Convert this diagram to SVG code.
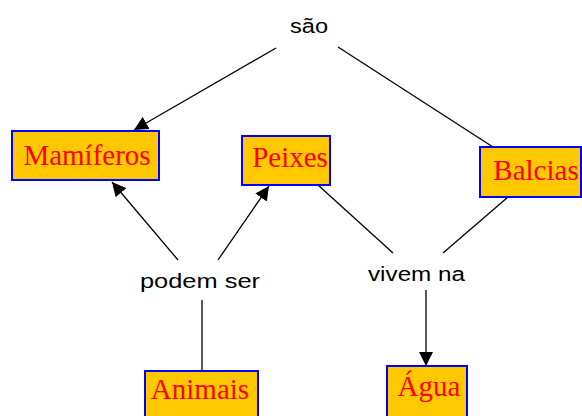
<svg xmlns="http://www.w3.org/2000/svg" width="582" height="416" viewBox="0 0 582 416">
<style>
.box{fill:#FFC800;stroke:#0000FF;stroke-width:2}
.lbl{font-family:"Liberation Serif","Times New Roman",serif;font-size:29px;fill:#FF0000;text-anchor:middle}
.link{font-family:"Liberation Sans",Arial,sans-serif;font-size:20px;fill:#000}
.ln{stroke:#000;stroke-width:1.3;fill:none}
</style>
<defs>
<marker id="arr" viewBox="0 0 10 10" refX="10" refY="5" markerWidth="14" markerHeight="14" markerUnits="userSpaceOnUse" orient="auto">
<path d="M0,0 L10,5 L0,10 z" fill="#000"/>
</marker>
</defs>
<rect width="582" height="416" fill="#fff"/>
<g id="connectors">
<line class="ln" x1="276" y1="48" x2="134" y2="130" marker-end="url(#arr)"/>
<line class="ln" x1="338" y1="47" x2="493" y2="147"/>
<line class="ln" x1="178" y1="260" x2="112" y2="182" marker-end="url(#arr)"/>
<line class="ln" x1="218" y1="260" x2="269" y2="186" marker-end="url(#arr)"/>
<line class="ln" x1="202" y1="300" x2="202" y2="371"/>
<line class="ln" x1="318" y1="185" x2="393" y2="253"/>
<line class="ln" x1="508" y1="197" x2="443" y2="253"/>
<line class="ln" x1="426" y1="290" x2="426" y2="366" marker-end="url(#arr)"/>
</g>
<g id="sao"><text class="link" x="290" y="33" textLength="38" lengthAdjust="spacingAndGlyphs">são</text></g>
<g id="podem-ser"><text class="link" x="140" y="288" textLength="120" lengthAdjust="spacingAndGlyphs">podem ser</text></g>
<g id="vivem-na"><text class="link" x="368" y="281" textLength="97" lengthAdjust="spacingAndGlyphs">vivem na</text></g>
<g id="mamiferos"><rect class="box" x="12" y="131" width="147" height="49"/><text class="lbl" x="87" y="165">Mamíferos</text></g>
<g id="peixes"><rect class="box" x="242" y="136" width="88" height="49"/><text class="lbl" x="290" y="167">Peixes</text></g>
<g id="balcias"><rect class="box" x="480" y="147" width="101" height="50"/><text class="lbl" x="536" y="180">Balcias</text></g>
<g id="animais"><rect class="box" x="145" y="371" width="113" height="50"/><text class="lbl" x="200" y="399">Animais</text></g>
<g id="agua"><rect class="box" x="387" y="366" width="80" height="55"/><text class="lbl" x="429" y="396">Água</text></g>
</svg>
